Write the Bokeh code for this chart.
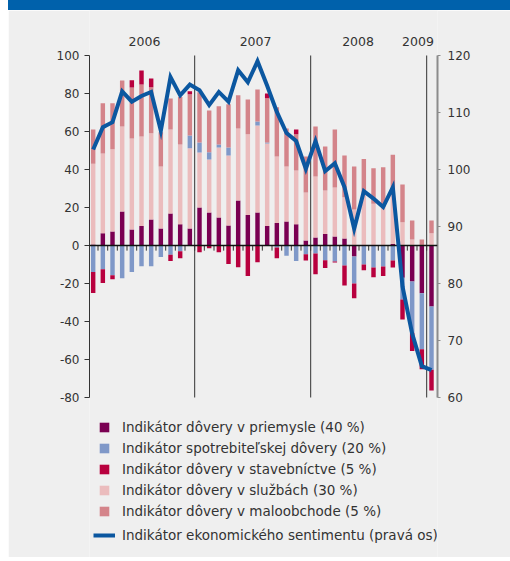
import numpy as np
from bokeh.plotting import figure
from bokeh.models import (Range1d, LinearAxis, FixedTicker, Span, Label, Legend,
                          LegendItem, Div, PrintfTickFormatter)
from bokeh.layouts import column
from bokeh.embed import file_html
from bokeh.resources import INLINE

# ---------------- data (contributions, left axis; sentiment, right axis) ----------------
months = ["2006-02", "2006-03", "2006-04", "2006-05", "2006-06", "2006-07", "2006-08",
          "2006-09", "2006-10", "2006-11", "2006-12",
          "2007-01", "2007-02", "2007-03", "2007-04", "2007-05", "2007-06", "2007-07",
          "2007-08", "2007-09", "2007-10", "2007-11", "2007-12",
          "2008-01", "2008-02", "2008-03", "2008-04", "2008-05", "2008-06", "2008-07",
          "2008-08", "2008-09", "2008-10", "2008-11", "2008-12",
          "2009-01"]

industry = [0.5, 6.5, 7.4, 17.9, 8.4, 10.2, 13.7, 8.9, 16.8, 11.2, 8.9,
            20.0, 17.4, 14.7, 10.5, 23.7, 16.0, 17.4, 10.2, 11.8, 12.6, 11.2, 2.6,
            4.2, 6.0, 4.7, 3.7, -5.8, 0.2, 0.2, 0.2, 0.8, -17.0, -18.9, -25.1,
            -32.1]
services = [42.5, 41.9, 43.3, 44.7, 47.9, 47.2, 45.4, 32.7, 44.2, 42.0, 42.3,
            28.9, 27.9, 36.9, 36.9, 37.9, 42.6, 45.8, 43.5, 35.0, 29.0, 28.3, 25.3,
            32.1, 22.9, 25.8, 21.7, 19.0, 27.0, 21.8, 20.0, 29.0, 12.2, 3.2, 0.3,
            6.5]
consumer = [-14.0, -12.5, -15.6, -17.2, -14.0, -10.9, -10.9, -6.1, -4.9, -3.0, 6.7,
            5.3, 3.8, 1.6, 4.2, 0.0, 0.0, 2.1, 0.5, -1.0, -5.4, -8.2, -4.6,
            -4.2, -7.7, -8.4, -10.5, -14.2, -10.0, -11.6, -11.1, -7.9, -11.4, -27.0, -29.5,
            -33.3]
retail = [18.0, 26.5, 24.2, 24.2, 26.9, 27.3, 24.2, 18.0, 16.4, 25.0, 21.7,
          26.5, 21.9, 20.1, 22.8, 17.5, 18.2, 16.8, 23.3, 26.0, 20.0, 19.1, 18.9,
          26.3, 23.2, 30.5, 22.0, 22.6, 18.3, 18.7, 21.0, 18.0, 19.9, 10.0, 2.9,
          6.7]
construction = [-11.0, -7.3, -2.1, 0.0, 3.8, 7.4, 4.6, 0.0, -3.3, -3.7, 1.6,
                -3.5, -1.4, -3.5, -9.8, -11.4, -16.1, -8.8, 2.5, -5.7, 0.0, 2.4, -3.3,
                -10.9, -4.2, -0.6, -10.5, -7.7, -3.0, -5.1, -5.0, -3.7, -10.5, -9.6, -10.5,
                -10.9]
sentiment = [103.5, 107.4, 108.3, 113.7, 111.9, 112.9, 113.6, 106.8, 116.2, 113.0, 114.9,
             113.9, 111.3, 113.6, 111.9, 117.4, 115.3, 119.0, 114.7, 110.1, 106.4, 105.0, 100.1,
             105.0, 99.7, 101.1, 96.9, 89.6, 96.2, 94.9, 93.4, 96.9, 79.5, 71.2, 65.5,
             64.8]

series_labels = ["Indikátor dôvery v priemysle (40 %)",
                 "Indikátor spotrebiteľskej dôvery (20 %)",
                 "Indikátor dôvery v stavebníctve (5 %)",
                 "Indikátor dôvery v službách (30 %)",
                 "Indikátor dôvery v maloobchode (5 %)"]
line_label = "Indikátor ekonomického sentimentu (pravá os)"
year_labels = ["2006", "2007", "2008", "2009"]
left_ticks = [-80, -60, -40, -20, 0, 20, 40, 60, 80, 100]
right_ticks = [60, 70, 80, 90, 100, 110, 120]

# ---------------- styling ----------------
BG = "#efefef"
HEADER = "#0061ab"
TXT = "#333333"
FONT = "DejaVu Sans"
c_ind, c_con, c_cst, c_srv, c_ret = "#7a0052", "#7f98c8", "#b8003e", "#ebbcbd", "#d4848a"
c_line = "#0b57a0"

x = np.arange(len(months))
lo, hi = min(left_ticks), max(left_ticks)
rlo, rhi = min(right_ticks), max(right_ticks)

# frame spans the whole panel height; axes are bounded to their value ranges
p = figure(width=502, height=547,
           x_range=Range1d(-0.38, 35.62), y_range=Range1d(-164.21, 123.68),
           output_backend="svg", toolbar_location=None, x_axis_location=None,
           min_border_left=81, min_border_right=73, min_border_top=0, min_border_bottom=0,
           background_fill_color=BG, border_fill_color=BG, outline_line_color=None)
p.grid.visible = False
p.extra_y_ranges = {"sent": Range1d(31.93, 127.89)}

# small ticks below the zero line at month boundaries
bounds = x[:-1] + 0.5
p.segment(x0=bounds, y0=np.zeros(len(bounds)), x1=bounds, y1=np.full(len(bounds), -2.7),
          line_color=TXT, line_width=1)

# year separators
sep = [i - 0.5 for i, m in enumerate(months) if i > 0 and m.endswith("-01")]
p.segment(x0=sep, y0=[lo] * len(sep), x1=sep, y1=[hi] * len(sep), line_color=TXT, line_width=1)

# stacked bars (positive up, negative down) in the chart's series order
stack_order = [(industry, c_ind, 0), (services, c_srv, 3), (consumer, c_con, 1),
               (retail, c_ret, 4), (construction, c_cst, 2)]
pos = np.zeros(len(x))
neg = np.zeros(len(x))
bar_renderers = [None] * 5
for vals, col, li in stack_order:
    v = np.array(vals, dtype=float)
    bottom = np.where(v >= 0, pos, neg)
    top = bottom + v
    pos = np.where(v >= 0, top, pos)
    neg = np.where(v < 0, top, neg)
    r = p.vbar(x=x, bottom=bottom, top=top, width=0.46, fill_color=col, line_color=None)
    bar_renderers[li] = r

# zero line
p.add_layout(Span(location=0, dimension="width", line_color="#111111", line_width=1.5))

# sentiment line on right axis
lr = p.line(x=x, y=sentiment, y_range_name="sent", line_color=c_line, line_width=4,
            line_join="miter")
lr.level = "overlay"

# left axis
ya = p.yaxis[0]
ya.bounds = (lo, hi)
ya.ticker = FixedTicker(ticks=left_ticks)
ya.formatter = PrintfTickFormatter(format="%d")
ya.axis_line_color = TXT
ya.major_tick_line_color = TXT
ya.major_tick_out = 5
ya.major_tick_in = 0
ya.minor_tick_line_color = None
ya.major_label_standoff = 5
ya.major_label_text_font = FONT
ya.major_label_text_font_size = "12px"
ya.major_label_text_color = TXT

# right axis
ra = LinearAxis(y_range_name="sent", ticker=FixedTicker(ticks=right_ticks),
                formatter=PrintfTickFormatter(format="%d"), bounds=(rlo, rhi))
ra.axis_line_color = "#8c8c8c"
ra.axis_line_width = 2
ra.major_tick_line_color = "#8c8c8c"
ra.major_tick_out = 3
ra.major_tick_in = 0
ra.minor_tick_line_color = None
ra.major_label_standoff = 7
ra.major_label_text_font = FONT
ra.major_label_text_font_size = "12px"
ra.major_label_text_color = TXT
p.add_layout(ra, "right")

# year labels above the bars
year_x = [5.31, 16.8, 27.4, 33.6]
for xx, t in zip(year_x, year_labels):
    p.add_layout(Label(x=xx, y=107.4, text=t, text_align="center", text_baseline="middle",
                       text_font=FONT, text_font_size="12.5px", text_color=TXT))

# legends
items1 = [LegendItem(label=lab, renderers=[r]) for lab, r in zip(series_labels, bar_renderers)]
leg1 = Legend(items=items1, location=(9, 36), orientation="vertical",
              glyph_width=12, glyph_height=12, label_height=21, spacing=0, padding=0, margin=0,
              label_standoff=12, border_line_color=None, background_fill_alpha=0,
              label_text_font=FONT, label_text_font_size="13.5px", label_text_color=TXT)
leg2 = Legend(items=[LegendItem(label=line_label, renderers=[lr])], location=(4, 12),
              orientation="vertical", glyph_width=22, glyph_height=12, label_height=21,
              spacing=0, padding=0, margin=0, label_standoff=7, border_line_color=None,
              background_fill_alpha=0, label_text_font=FONT, label_text_font_size="13.5px",
              label_text_color=TXT)
p.add_layout(leg1)
p.add_layout(leg2)

header = Div(text="", width=502, height=10, margin=0,
             styles={"background-color": HEADER})
layout = column(header, p, spacing=0, margin=(0, 0, 0, 8))

open("out.html", "w").write(file_html(layout, INLINE))
